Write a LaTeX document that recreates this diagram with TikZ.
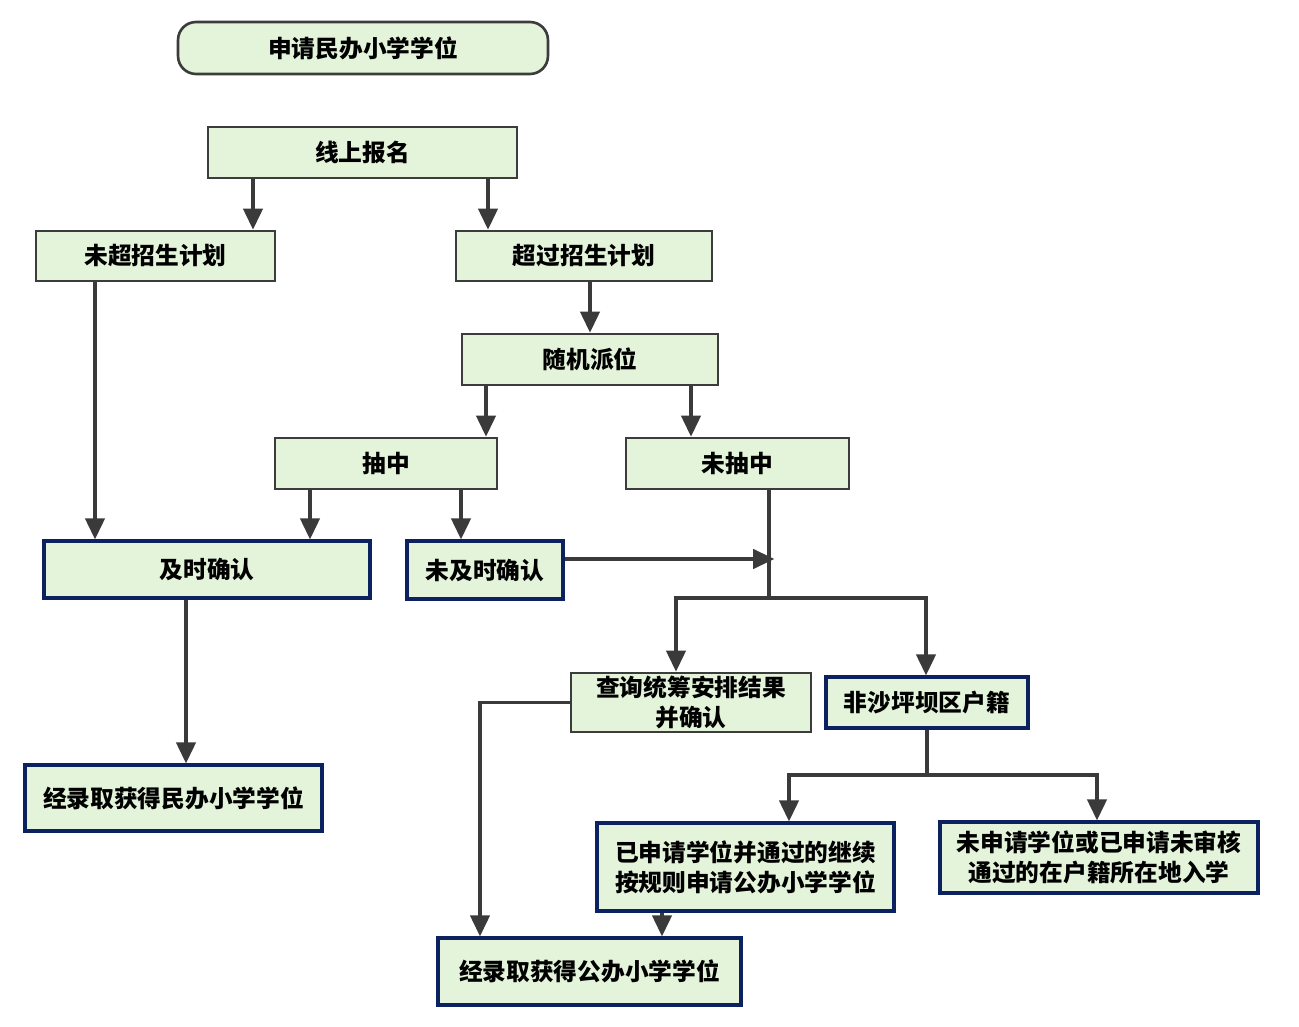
\documentclass[tikz,border=0pt]{standalone}
\usepackage{fontspec}
\newfontfamily\cjk{Noto Sans CJK SC}
\usetikzlibrary{arrows.meta}
\definecolor{feld}{HTML}{E4F4DA}
\definecolor{kante}{HTML}{3C3C3C}
\definecolor{navy}{HTML}{0C2260}
\definecolor{pfeilgrau}{HTML}{3A3A3A}

\begin{document}
\begin{tikzpicture}[x=0.02cm, y=-0.02cm,
    box/.style={draw=kante, line width=1.5pt, fill=feld, align=center, inner sep=0pt,
      font=\cjk\bfseries\fontsize{13.5}{17}\selectfont},
    nbox/.style={box, draw=navy, line width=1.8pt},
    pfeil/.style={draw=pfeilgrau, line width=1.9pt, -{Triangle[width=11pt,length=12pt]}},
    strich/.style={draw=pfeilgrau, line width=1.9pt}]
    \useasboundingbox (0,0) rectangle (1299,1027);

    % Kopf
    \node[box, rounded corners=0.36cm, minimum width=7.4cm, minimum height=1.04cm] (titel) at (363,48) {申请民办小学学位};

    % Boxen, Zeile fuer Zeile
    \node[box, minimum width=6.18cm, minimum height=1.02cm] (online) at (362.5,152.5) {线上报名};
    \node[box, minimum width=4.78cm, minimum height=1.0cm] (weichao) at (155.5,256) {未超招生计划};
    \node[box, minimum width=5.12cm, minimum height=1.0cm] (chaoguo) at (584,256) {超过招生计划};
    \node[box, minimum width=5.12cm, minimum height=1.02cm] (paiwei) at (590,359.5) {随机派位};
    \node[box, minimum width=4.44cm, minimum height=1.02cm] (chouzhong) at (386,463.5) {抽中};
    \node[box, minimum width=4.46cm, minimum height=1.02cm] (weichou) at (737.5,463.5) {未抽中};
    \node[nbox, minimum width=6.52cm, minimum height=1.14cm] (jishi) at (207,569.5) {及时确认};
    \node[nbox, minimum width=3.12cm, minimum height=1.16cm] (weiji) at (485,570) {未及时确认};
    \node[box, minimum width=4.8cm, minimum height=1.18cm] (chaxun) at (691,702.5) {查询统筹安排结果\\并确认};
    \node[nbox, minimum width=4.04cm, minimum height=1.02cm] (huji) at (927,702.5) {非沙坪坝区户籍};
    \node[nbox, minimum width=5.94cm, minimum height=1.32cm] (minban) at (173.5,798) {经录取获得民办小学学位};
    \node[nbox, minimum width=5.94cm, minimum height=1.76cm] (shenqing) at (745.5,867) {已申请学位并通过的继续\\按规则申请公办小学学位};
    \node[nbox, minimum width=6.36cm, minimum height=1.42cm] (weishen) at (1099,857.5) {未申请学位或已申请未审核\\通过的在户籍所在地入学};
    \node[nbox, minimum width=6.06cm, minimum height=1.34cm] (gongban) at (589.5,971.5) {经录取获得公办小学学位};

    % Spalten und Zeilen der Pfeile
    \foreach \n/\x in {a/253, b/488, c/590, d/486, e/691, f/95, g/310, h/461,
                       k/676, l/926, m/186, n/480, o/789, p/1097, q/662}
      \coordinate (s\n) at (\x,0);
    \coordinate (knoten) at (769,598);
    \coordinate (r1) at (0,559);
    \coordinate (r2) at (0,775);

    % Senkrechte Pfeile
    \draw[pfeil] (online.south -| sa) -- (weichao.north -| sa);
    \draw[pfeil] (online.south -| sb) -- (chaoguo.north -| sb);
    \draw[pfeil] (chaoguo.south -| sc) -- (paiwei.north -| sc);
    \draw[pfeil] (paiwei.south -| sd) -- (chouzhong.north -| sd);
    \draw[pfeil] (paiwei.south -| se) -- (weichou.north -| se);
    \draw[pfeil] (weichao.south -| sf) -- (jishi.north -| sf);
    \draw[pfeil] (chouzhong.south -| sg) -- (jishi.north -| sg);
    \draw[pfeil] (chouzhong.south -| sh) -- (weiji.north -| sh);
    \draw[pfeil] (jishi.south -| sm) -- (minban.north -| sm);
    \draw[pfeil] (shenqing.south -| sq) -- (gongban.north -| sq);

    % Verzweigung nach "未抽中"
    \draw[strich] (weichou.south -| knoten) -- (knoten);
    \draw[pfeil] (weiji.east |- r1) -- ([xshift=3pt]knoten |- r1);
    \draw[pfeil] (knoten) -| (chaxun.north -| sk);
    \draw[pfeil] (knoten) -| (huji.north -| sl);
    \draw[pfeil] (chaxun.west) -| (gongban.north -| sn);

    % Verzweigung nach "非沙坪坝区户籍"
    \draw[strich] (huji.south) -- (huji.south |- r2);
    \draw[pfeil] (huji.south |- r2) -| (shenqing.north -| so);
    \draw[pfeil] (huji.south |- r2) -| (weishen.north -| sp);
\end{tikzpicture}
\end{document}
